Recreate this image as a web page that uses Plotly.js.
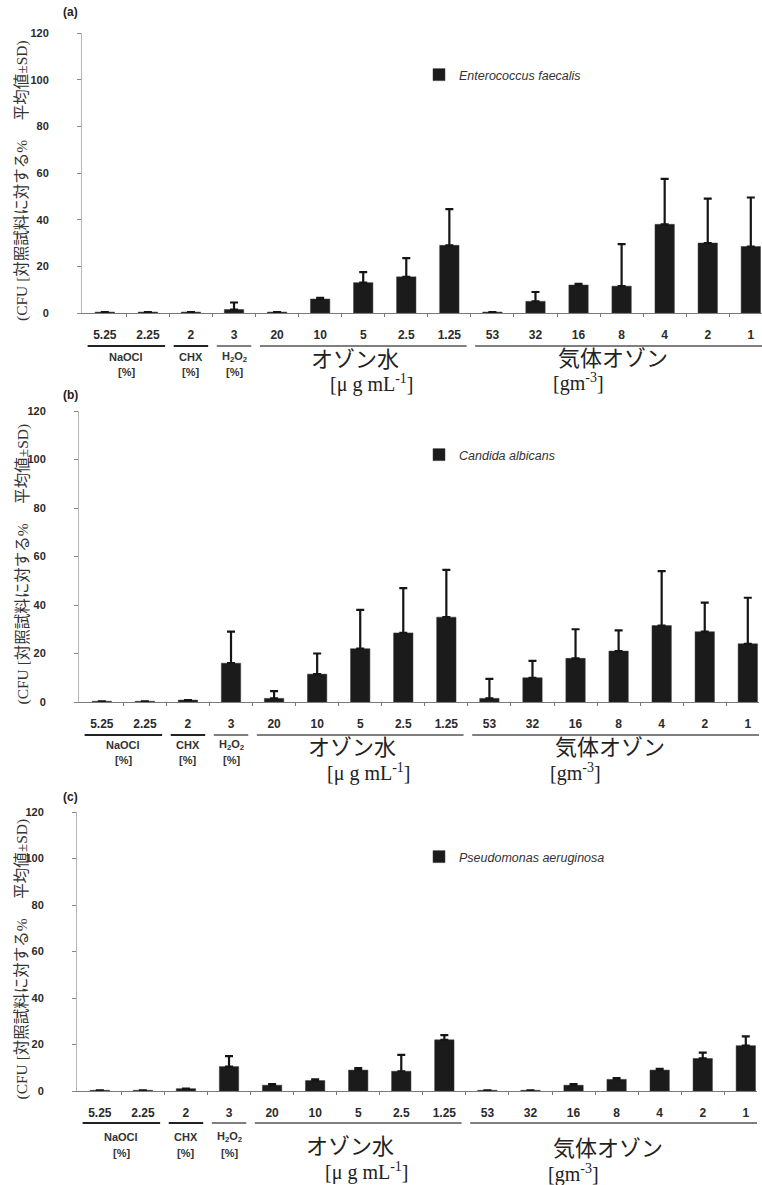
<!DOCTYPE html>
<html>
<head>
<meta charset="utf-8">
<script src="https://cdn.plot.ly/plotly-3.0.1.min.js"></script>
<style>
  html, body { margin: 0; padding: 0; background: #ffffff; overflow: hidden; }
  #chart { width: 762px; height: 1185px; }
</style>
</head>
<body>
<div id="chart"></div>
<script>
// ---------- data ----------
const categories = ['5.25','2.25','2','3','20','10','5','2.5','1.25','53','32','16','8','4','2','1'];

const panelLetters = ['(a)', '(b)', '(c)'];
const speciesNames = ['Enterococcus faecalis', 'Candida albicans', 'Pseudomonas aeruginosa'];

const valuesA = [0.4, 0.4, 0.4, 1.5, 0.4, 6, 13, 15.5, 29, 0.4, 5, 12, 11.5, 38, 30, 28.5];
const errorsA = [0, 0, 0, 3, 0, 0.5, 4.5, 8, 15.5, 0, 4, 0.5, 18, 19.5, 19, 21];

const valuesB = [0.3, 0.3, 0.8, 16, 1.5, 11.5, 22, 28.5, 35, 1.5, 10, 18, 21, 31.5, 29, 24];
const errorsB = [0, 0, 0, 13, 3, 8.5, 16, 18.5, 19.5, 8, 7, 12, 8.5, 22.5, 12, 19];

const valuesC = [0.3, 0.3, 1, 10.5, 2.5, 4.5, 9, 8.5, 22, 0.3, 0.3, 2.5, 5, 9, 14, 19.5];
const errorsC = [0, 0, 0, 4.5, 0.5, 0.5, 0.8, 7, 2, 0, 0, 0.5, 0.5, 0.5, 2.5, 4];

const groupNames = ['NaOCl', 'CHX', 'H<sub>2</sub>O<sub>2</sub>', 'オゾン水', '気体オゾン'];
const groupUnits = ['[%]', '[%]', '[%]', '[μ g mL<sup>-1</sup>]', '[gm<sup>-3</sup>]'];
const groupFirst = [0, 2, 3, 4, 9];
const groupLast  = [1, 2, 3, 8, 15];

const yTickVals = [0, 20, 40, 60, 80, 100, 120];
const yTitle = '(CFU [対照試料に対する%　 平均値±SD)';

// ---------- layout geometry (pixels) ----------
const W = 762, H = 1185;
const py = p => 1 - p / H;
const panels = [
  { values: valuesA, errors: errorsA, top: 33,  base: 313,  left: 82, right: 762, letterY: 12,  small: [44, 59], big: [44, 71], big2: [43, 69], line: 33, legendY: 75 },
  { values: valuesB, errors: errorsB, top: 411, base: 702,  left: 79, right: 759, letterY: 395, small: [43, 58], big: [43, 70], big2: [43, 70], line: 33, legendY: 455 },
  { values: valuesC, errors: errorsC, top: 812, base: 1091, left: 77, right: 757, letterY: 797, small: [46, 62], big: [53, 80], big2: [55, 82], line: 32, legendY: 857 }
];

const data = [];
const layout = {
  width: W, height: H,
  margin: { l: 0, r: 0, t: 0, b: 0 },
  paper_bgcolor: '#ffffff', plot_bgcolor: '#ffffff',
  showlegend: true,
  bargap: 0.55,
  annotations: [], shapes: []
};

const boundaries = categories.slice(0, -1).map((c, i) => i + 0.5);
const idx = categories.map((c, i) => i);

panels.forEach((p, k) => {
  const sfx = k === 0 ? '' : String(k + 1);
  const xa = 'x' + sfx, ya = 'y' + sfx;
  const legendName = 'legend' + sfx;

  data.push({
    type: 'bar',
    x: idx, y: p.values,
    xaxis: xa, yaxis: ya,
    name: '<i>' + speciesNames[k] + '</i>',
    legend: legendName,
    showlegend: true,
    marker: { color: '#1b1b1b', line: { color: '#3a3a3a', width: 0.5 } },
    error_y: { type: 'data', symmetric: false, array: p.errors,
               arrayminus: p.errors.map(() => 0), color: '#151515', thickness: 2.2, width: 4 },
    hoverinfo: 'skip'
  });

  layout['xaxis' + sfx] = {
    domain: [p.left / W, p.right / W],
    anchor: ya,
    range: [-0.53, 15.26],
    tickmode: 'array', tickvals: idx, ticktext: categories,
    ticks: '', ticklabelstandoff: 10,
    tickfont: { family: 'Liberation Sans, Arial, sans-serif', size: 12, color: '#2a2a2a', weight: 'bold' },
    showline: true, linecolor: '#7a7a7a', linewidth: 1.4,
    showgrid: false, zeroline: false, fixedrange: true,
    minor: { tickmode: 'array', tickvals: boundaries, ticks: 'outside', ticklen: 3, tickcolor: '#777', tickwidth: 1 }
  };
  layout['yaxis' + sfx] = {
    domain: [py(p.base), py(p.top)],
    anchor: xa,
    range: [0, 120],
    tickmode: 'array', tickvals: yTickVals,
    ticks: 'outside', ticklen: 4, tickcolor: '#888', tickwidth: 1,
    ticklabelstandoff: 26,
    tickfont: { family: 'Liberation Sans, Arial, sans-serif', size: 11, color: '#2a2a2a', weight: 'bold' },
    showline: true, linecolor: '#b5b5b5', linewidth: 1,
    showgrid: false, zeroline: false, fixedrange: true
  };

  layout[legendName] = {
    x: 419 / W, xanchor: 'left',
    y: py(p.legendY), yanchor: 'middle',
    bgcolor: 'rgba(0,0,0,0)',
    font: { family: 'Liberation Sans, Arial, sans-serif', size: 12.5, color: '#333' },
    itemwidth: 30, tracegroupgap: 0
  };

  // panel letter
  layout.annotations.push({
    xref: 'paper', yref: 'paper', x: 70 / W, y: py(p.letterY), xanchor: 'center', yanchor: 'middle',
    text: panelLetters[k], showarrow: false,
    font: { family: 'Liberation Sans, Arial, sans-serif', size: 12, color: '#222', weight: 'bold' }
  });

  // y-axis title
  layout.annotations.push({
    xref: 'paper', yref: 'paper', x: 22 / W, y: py((p.top + p.base) / 2 + 8),
    xanchor: 'center', yanchor: 'middle', textangle: -90,
    text: yTitle, showarrow: false,
    font: { family: 'Liberation Serif, Noto Sans CJK JP, serif', size: 15.5, color: '#333' }
  });

  // group underlines and labels
  groupNames.forEach((g, j) => {
    const x0 = groupFirst[j] - 0.4, x1 = groupLast[j] + 0.4;
    const center = (groupFirst[j] + groupLast[j]) / 2;
    layout.shapes.push({
      type: 'line', xref: xa, yref: 'paper',
      x0: x0, x1: x1, y0: py(p.base + p.line), y1: py(p.base + p.line),
      line: { color: j >= 2 ? '#555' : '#222', width: j >= 2 ? 1.3 : 1.8 }
    });
    if (j < 3) {
      layout.annotations.push({
        xref: xa, yref: 'paper', x: center, y: py(p.base + p.small[0]),
        xanchor: 'center', yanchor: 'middle', showarrow: false, text: g,
        font: { family: 'Liberation Sans, Arial, sans-serif', size: 11, color: '#333', weight: 'bold' }
      });
      layout.annotations.push({
        xref: xa, yref: 'paper', x: center, y: py(p.base + p.small[1]),
        xanchor: 'center', yanchor: 'middle', showarrow: false, text: groupUnits[j],
        font: { family: 'Liberation Sans, Arial, sans-serif', size: 11, color: '#333', weight: 'bold' }
      });
    } else {
      const off = j === 3 ? p.big : p.big2;
      layout.annotations.push({
        xref: xa, yref: 'paper', x: center - 0.2, y: py(p.base + off[0]),
        xanchor: 'center', yanchor: 'middle', showarrow: false, text: g,
        font: { family: 'Noto Sans CJK JP, sans-serif', size: 22, color: '#222' }
      });
      layout.annotations.push({
        xref: xa, yref: 'paper', x: j === 3 ? center + 0.2 : center - 1.65, y: py(p.base + off[1]),
        xanchor: j === 3 ? 'center' : 'left', yanchor: 'middle', showarrow: false, text: groupUnits[j],
        font: { family: 'Liberation Serif, Times New Roman, serif', size: 20, color: '#222' }
      });
    }
  });
});

Plotly.newPlot('chart', data, layout, { staticPlot: true, displayModeBar: false });
</script>
</body>
</html>
